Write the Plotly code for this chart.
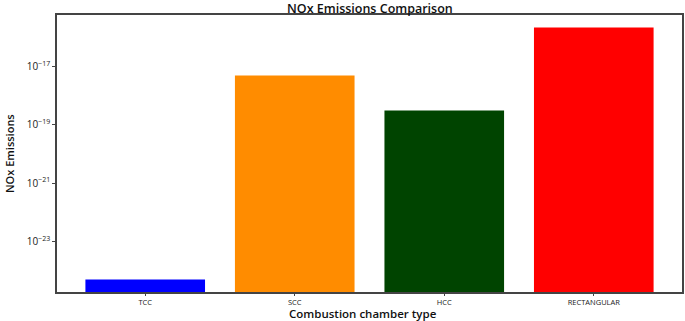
import plotly.graph_objects as go

categories = ["TCC", "SCC", "HCC", "RECTANGULAR"]
nox_values = [4.9e-25, 4.9e-18, 3.1e-19, 2.2e-16]
bar_colors = ["#0000ff", "#ff8c00", "#004400", "#ff0000"]
y_tick_vals = [1e-23, 1e-21, 1e-19, 1e-17]
y_tick_text = ["10<sup>−23</sup>", "10<sup>−21</sup>", "10<sup>−19</sup>", "10<sup>−17</sup>"]

fig = go.Figure(
    go.Bar(
        x=categories,
        y=nox_values,
        marker=dict(color=bar_colors, line=dict(width=0)),
        width=0.8,
    )
)

font_family = "Open Sans, DejaVu Sans, sans-serif"

fig.update_layout(
    width=685,
    height=321,
    margin=dict(l=57, r=3, t=15, b=29, autoexpand=False),
    paper_bgcolor="white",
    plot_bgcolor="white",
    showlegend=False,
    xaxis=dict(
        range=[-0.59, 3.59],
        automargin=False,
        showline=True, mirror=True, linecolor="#444444", linewidth=1.5,
        ticks="outside", ticklen=2, tickcolor="#444444",
        tickfont=dict(family=font_family, size=7.5, color="#222222"),
        showgrid=False,
    ),
    yaxis=dict(
        type="log",
        automargin=False,
        range=[-24.74, -15.23],
        tickvals=y_tick_vals,
        ticktext=y_tick_text,
        showline=True, mirror=True, linecolor="#444444", linewidth=1.5,
        ticks="outside", ticklen=3, tickcolor="#444444",
        tickfont=dict(family=font_family, size=10, color="#222222"),
        showgrid=False,
        zeroline=False,
    ),
    annotations=[
        dict(text="NOx Emissions Comparison", xref="paper", yref="paper",
             x=0.5, y=1.0, xanchor="center", yanchor="middle", yshift=7,
             showarrow=False,
             font=dict(family=font_family, size=12.5, color="#111111", weight=600)),
        dict(text="Combustion chamber type", xref="paper", yref="paper",
             x=0.49, y=0.0, xanchor="center", yanchor="middle", yshift=-21.5,
             showarrow=False,
             font=dict(family=font_family, size=11.5, color="#111111", weight=600)),
        dict(text="NOx Emissions", xref="paper", yref="paper",
             x=0.0, y=0.5, xanchor="right", yanchor="middle", xshift=-38,
             textangle=-90, showarrow=False,
             font=dict(family=font_family, size=11, color="#111111", weight=600)),
    ],
)

fig.write_html(
    "out.html",
    config={"displayModeBar": False},
    post_script="document.body.style.margin='0';document.body.style.overflow='hidden';",
)
